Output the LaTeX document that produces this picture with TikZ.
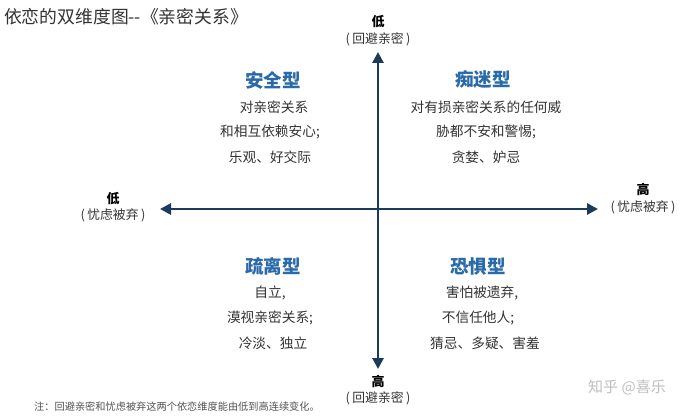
\documentclass[tikz,border=0pt]{standalone}
\usepackage{fontspec}
\setmainfont{Noto Sans CJK SC}
\usetikzlibrary{arrows.meta}
\definecolor{axisblue}{HTML}{1B3A5C}
\definecolor{headblue}{HTML}{2A6AA8}
\definecolor{bodygray}{HTML}{333333}
\newcommand{\plab}[1]{(\hspace{2.5pt}#1\hspace{2.5pt})}
\begin{document}
\begin{tikzpicture}[x=1pt,y=-1pt,
  axis/.style={line width=2.8pt,draw=axisblue,-{Triangle[length=11pt,width=11pt]}},
  head/.style={font=\fontsize{18.5}{21}\selectfont\bfseries,text=headblue,inner sep=0pt},
  body/.style={font=\fontsize{13.7}{16}\selectfont,text=bodygray,inner sep=0pt},
  lab/.style={font=\fontsize{12.8}{14}\selectfont,text=bodygray,inner sep=0pt,align=center},
  labb/.style={font=\fontsize{13}{15}\selectfont\bfseries,text=black,inner sep=0pt}]
\useasboundingbox (0,0) rectangle (700,417);
\fill[white] (0,0) rectangle (700,417);
% title
\node[anchor=west,inner sep=0pt,font=\fontsize{17.8}{20}\selectfont,text=bodygray] (title) at (4,17) {依恋的双维度图-{}-《亲密关系》};
% axes
\coordinate (c) at (378,209);
\coordinate (top) at (378,52);
\coordinate (bot) at (378,369);
\coordinate (lft) at (160,209);
\coordinate (rgt) at (598,209);
\draw[axis] (c) -- (top);
\draw[axis] (c) -- (bot);
\draw[axis] (c) -- (lft);
\draw[axis] (c) -- (rgt);
% axis labels
\node[labb] (tl1) at (378,22) {低};
\node[lab] (tl2) at (378,39) {\plab{回避亲密}};
\node[labb] (bl1) at (378,381) {高};
\node[lab] (bl2) at (378,398) {\plab{回避亲密}};
\node[labb] (ll1) at (113,199) {低};
\node[lab] (ll2) at (113,215) {\plab{忧虑被弃}};
\node[labb] (rl1) at (643,190) {高};
\node[lab] (rl2) at (643,207) {\plab{忧虑被弃}};
% quadrants
\node[head] (q1h) at (273,80) {安全型};
\node[body] (q1a) at (274,107) {对亲密关系};
\node[body] (q1b) at (270,132) {和相互依赖安心;};
\node[body] (q1c) at (270,157) {乐观、好交际};
\node[head] (q2h) at (483,80) {痴迷型};
\node[body] (q2a) at (486,107) {对有损亲密关系的任何威};
\node[body] (q2b) at (486,132) {胁都不安和警惕;};
\node[body] (q2c) at (486,157) {贪婪、妒忌};
\node[head] (q3h) at (273,266) {疏离型};
\node[body] (q3a) at (270,293) {自立,};
\node[body] (q3b) at (270,318) {漠视亲密关系;};
\node[body] (q3c) at (273,343) {冷淡、独立};
\node[head] (q4h) at (478,266) {恐惧型};
\node[body] (q4a) at (482,293) {害怕被遗弃,};
\node[body] (q4b) at (478,318) {不信任他人;};
\node[body] (q4c) at (485,343) {猜忌、多疑、害羞};
% note
\node[anchor=west,inner sep=0pt,font=\fontsize{10.2}{12}\selectfont,text=bodygray!85] (note) at (34,407) {注：回避亲密和忧虑被弃这两个依恋维度能由低到高连续变化。};
% watermark
\node[inner sep=0pt,font=\fontsize{15}{18}\selectfont,text=black!25] (wm) at (627,387) {知乎 @喜乐};
\end{tikzpicture}
\end{document}
